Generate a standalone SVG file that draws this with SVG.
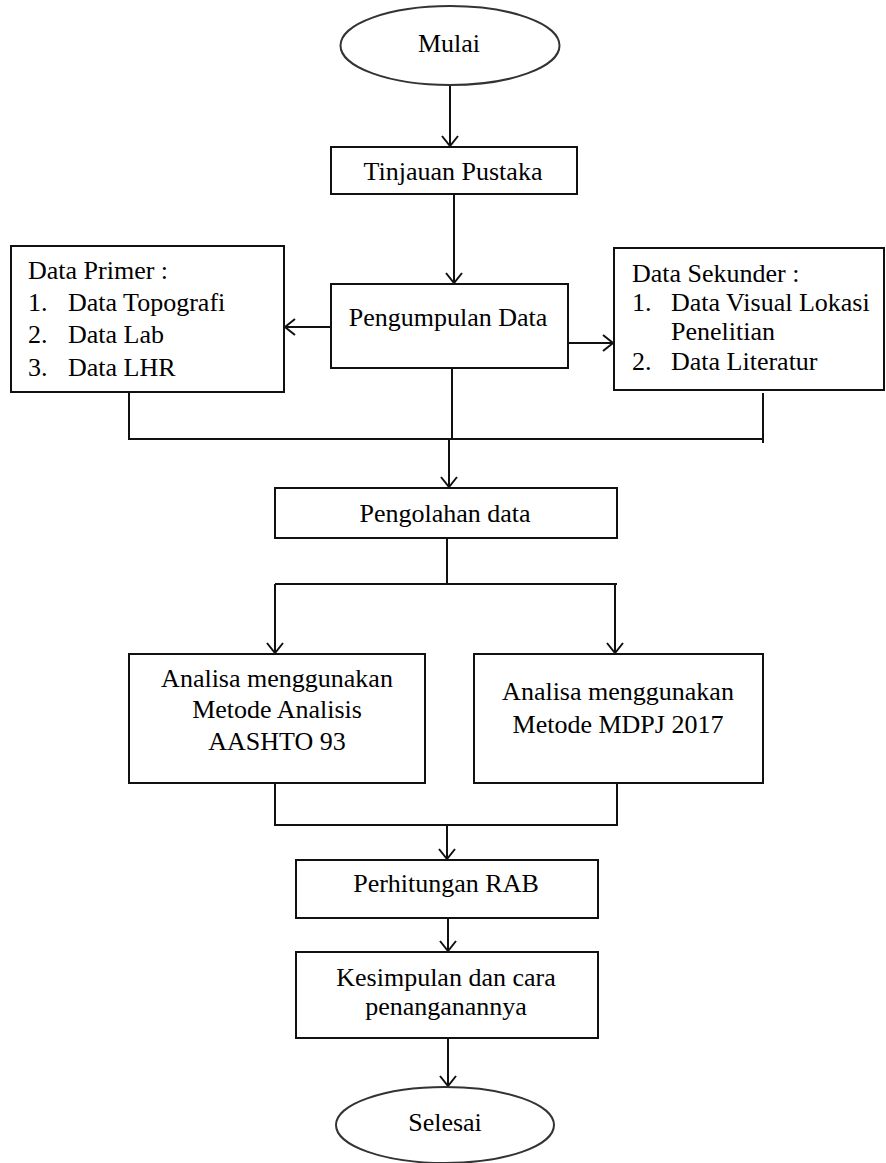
<svg xmlns="http://www.w3.org/2000/svg" width="886" height="1163" viewBox="0 0 886 1163">
<style>
.box{fill:#fff;stroke:#111;stroke-width:2}
.term{fill:#fff;stroke:#333;stroke-width:2}
.ln{fill:none;stroke:#111;stroke-width:2}
text{font-family:"Liberation Serif","Times New Roman",serif;font-size:26px;fill:#000}
.c{text-anchor:middle}
</style>
<defs>
<marker id="ah" markerUnits="userSpaceOnUse" markerWidth="20" markerHeight="20" viewBox="0 0 20 20" refX="19" refY="10" orient="auto">
<path d="M9,2 L19,10 L9,18" fill="none" stroke="#111" stroke-width="2"/>
</marker>
</defs>
<rect width="886" height="1163" fill="#fff"/>
<g id="connectors">
<line class="ln" x1="450" y1="85" x2="450" y2="146" marker-end="url(#ah)"/>
<line class="ln" x1="454" y1="194" x2="454" y2="283" marker-end="url(#ah)"/>
<line class="ln" x1="331" y1="327" x2="285" y2="327" marker-end="url(#ah)"/>
<line class="ln" x1="568" y1="343" x2="613" y2="343" marker-end="url(#ah)"/>
<line class="ln" x1="129" y1="392" x2="129" y2="439"/>
<line class="ln" x1="452" y1="368" x2="452" y2="439"/>
<line class="ln" x1="763" y1="393" x2="763" y2="443"/>
<line class="ln" x1="128" y1="439" x2="764" y2="439"/>
<line class="ln" x1="449" y1="439" x2="449" y2="487" marker-end="url(#ah)"/>
<polyline class="ln" points="447,538 447,584"/>
<line class="ln" x1="275" y1="584" x2="617" y2="584"/>
<line class="ln" x1="275" y1="584" x2="275" y2="653" marker-end="url(#ah)"/>
<line class="ln" x1="615" y1="584" x2="615" y2="653" marker-end="url(#ah)"/>
<polyline class="ln" points="275,783 275,825 617,825 617,783"/>
<line class="ln" x1="447" y1="825" x2="447" y2="859" marker-end="url(#ah)"/>
<line class="ln" x1="448" y1="918" x2="448" y2="951" marker-end="url(#ah)"/>
<line class="ln" x1="448" y1="1038" x2="448" y2="1086" marker-end="url(#ah)"/>
</g>
<g id="mulai">
<ellipse class="term" cx="450" cy="45.5" rx="109.5" ry="39.5"/>
<text class="c" x="449" y="52">Mulai</text>
</g>
<g id="tinjauan">
<rect class="box" x="331" y="147" width="246" height="47"/>
<text class="c" x="453" y="180">Tinjauan Pustaka</text>
</g>
<g id="pengumpulan">
<rect class="box" x="331" y="284" width="237" height="84"/>
<text class="c" x="448" y="326">Pengumpulan Data</text>
</g>
<g id="data-primer">
<rect class="box" x="11" y="246" width="273" height="146"/>
<text x="28" y="279">Data Primer :</text>
<text x="28" y="311">1.</text><text x="68" y="311">Data Topografi</text>
<text x="28" y="343">2.</text><text x="68" y="343">Data Lab</text>
<text x="28" y="376">3.</text><text x="68" y="376">Data LHR</text>
</g>
<g id="data-sekunder">
<rect class="box" x="614" y="248" width="270" height="142"/>
<text x="632" y="282">Data Sekunder :</text>
<text x="632" y="311">1.</text><text x="671" y="311">Data Visual Lokasi</text>
<text x="671" y="340">Penelitian</text>
<text x="632" y="370">2.</text><text x="671" y="370">Data Literatur</text>
</g>
<g id="pengolahan">
<rect class="box" x="275" y="488" width="342" height="50"/>
<text class="c" x="445" y="522">Pengolahan data</text>
</g>
<g id="aashto">
<rect class="box" x="129" y="654" width="296" height="129"/>
<text class="c" x="277" y="687">Analisa menggunakan</text>
<text class="c" x="277" y="718">Metode Analisis</text>
<text class="c" x="277" y="750">AASHTO 93</text>
</g>
<g id="mdpj">
<rect class="box" x="474" y="654" width="289" height="129"/>
<text class="c" x="618" y="700">Analisa menggunakan</text>
<text class="c" x="618" y="733">Metode MDPJ 2017</text>
</g>
<g id="rab">
<rect class="box" x="296" y="860" width="302" height="58"/>
<text class="c" x="446" y="892">Perhitungan RAB</text>
</g>
<g id="kesimpulan">
<rect class="box" x="296" y="952" width="302" height="86"/>
<text class="c" x="446" y="986">Kesimpulan dan cara</text>
<text class="c" x="446" y="1015">penanganannya</text>
</g>
<g id="selesai">
<ellipse class="term" cx="445" cy="1125" rx="109" ry="38"/>
<text class="c" x="445" y="1131">Selesai</text>
</g>
</svg>
